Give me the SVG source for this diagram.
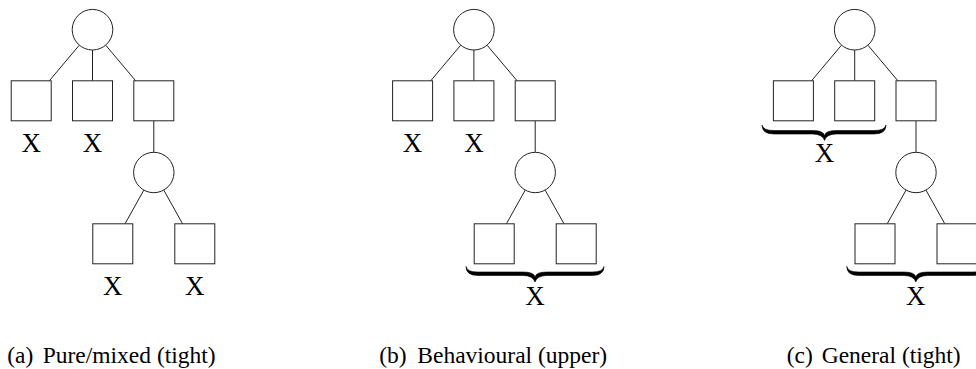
<svg xmlns="http://www.w3.org/2000/svg" width="976" height="369" viewBox="0 0 976 369">
<style>
  .shape { fill: #fff; stroke: #222; stroke-width: 1; }
  .edge { stroke: #222; stroke-width: 1; fill: none; }
  .x { font-size: 27px; text-anchor: middle; fill: #000; }
  .cap { font-size: 23.5px; fill: #000; }
  .brace { fill: #000; stroke: #000; stroke-width: 0.6; }
</style>
<defs>
  <g id="tree">
    <g class="edges">
      <line class="edge" x1="79.2" y1="45.3" x2="49.3" y2="80.8"/>
      <line class="edge" x1="92.5" y1="50" x2="92.5" y2="80.8"/>
      <line class="edge" x1="105.8" y1="45.3" x2="135.7" y2="80.8"/>
      <line class="edge" x1="153.8" y1="120.8" x2="153.8" y2="152.3"/>
      <line class="edge" x1="143.8" y1="190.2" x2="125" y2="223.8"/>
      <line class="edge" x1="163.8" y1="190.2" x2="182.6" y2="223.8"/>
    </g>
    <circle class="shape" cx="92.5" cy="29.7" r="20.3"/>
    <rect class="shape" x="11.2" y="80.8" width="40" height="40"/>
    <rect class="shape" x="72.5" y="80.8" width="40" height="40"/>
    <rect class="shape" x="133.8" y="80.8" width="40" height="40"/>
    <circle class="shape" cx="153.8" cy="172.5" r="20.2"/>
    <rect class="shape" x="92.8" y="223.8" width="40" height="40"/>
    <rect class="shape" x="174.8" y="223.8" width="40" height="40"/>
  </g>
</defs>

<g id="panel-a" font-family="'Liberation Serif', 'DejaVu Serif', serif">
  <use href="#tree"/>
  <text class="x" x="31.2" y="151.7">X</text>
  <text class="x" x="92.5" y="151.7">X</text>
  <text class="x" x="112.8" y="295">X</text>
  <text class="x" x="194.8" y="295">X</text>
  <text class="cap" x="7.3" y="363">(a)<tspan x="42.7">Pure/mixed (tight)</tspan></text>
</g>

<g id="panel-b" font-family="'Liberation Serif', 'DejaVu Serif', serif">
  <use href="#tree" transform="translate(381.4,0)"/>
  <text class="x" x="412.6" y="151.7">X</text>
  <text class="x" x="473.9" y="151.7">X</text>
  <path class="brace" d="M466,266.5 Q466,275.5 478,275.5 L523,275.5 Q533,275.5 535,282 Q537,275.5 547,275.5 L592,275.5 Q604,275.5 604,266.5 Q603,272 592,272 L547,272 Q536,272 535,277 Q534,272 523,272 L478,272 Q467,272 466,266.5 Z"/>
  <text class="x" x="535" y="305">X</text>
  <text class="cap" x="379.3" y="363">(b)<tspan x="417.3">Behavioural (upper)</tspan></text>
</g>

<g id="panel-c" font-family="'Liberation Serif', 'DejaVu Serif', serif">
  <use href="#tree" transform="translate(762.2,0)"/>
  <path class="brace" d="M762,125 Q762,134 774,134 L812.5,134 Q822.5,134 824.5,140.5 Q826.5,134 836.5,134 L874,134 Q886,134 886,125 Q885,130.5 874,130.5 L836.5,130.5 Q825.5,130.5 824.5,135.5 Q823.5,130.5 812.5,130.5 L774,130.5 Q763,130.5 762,125 Z"/>
  <text class="x" x="824.5" y="162">X</text>
  <path class="brace" d="M846.8,266.5 Q846.8,275.5 858.8,275.5 L903.8,275.5 Q913.8,275.5 915.8,282 Q917.8,275.5 927.8,275.5 L972.8,275.5 Q984.8,275.5 984.8,266.5 Q983.8,272 972.8,272 L927.8,272 Q916.8,272 915.8,277 Q914.8,272 903.8,272 L858.8,272 Q847.8,272 846.8,266.5 Z"/>
  <text class="x" x="915.8" y="305">X</text>
  <text class="cap" x="786.7" y="363">(c)<tspan x="821.7">General (tight)</tspan></text>
</g>
</svg>
